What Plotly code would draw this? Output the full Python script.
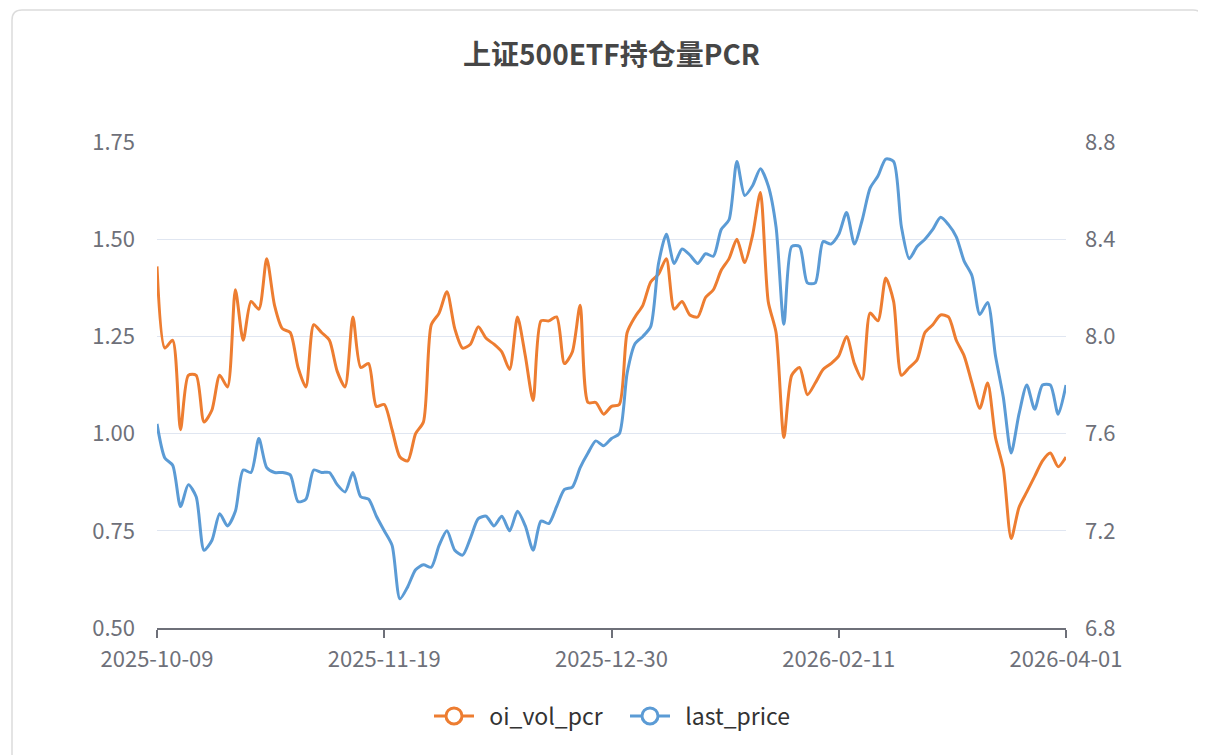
import pandas as pd
import plotly.graph_objects as go

# ---- data ----
holidays = ["2026-01-01", "2026-01-02", "2026-02-16", "2026-02-17", "2026-02-18",
            "2026-02-19", "2026-02-20", "2026-02-23"]
dates = [d.strftime("%Y-%m-%d") for d in pd.bdate_range("2025-10-09", "2026-04-01")
         if d.strftime("%Y-%m-%d") not in holidays]

tick_labels = ["2025-10-09", "2025-11-19", "2025-12-30", "2026-02-11", "2026-04-01"]

oi_vol_pcr = [
    1.43, 1.22, 1.24, 1.01, 1.15, 1.15, 1.03, 1.06, 1.15, 1.12,
    1.37, 1.24, 1.34, 1.32, 1.45, 1.33, 1.27, 1.26, 1.17, 1.12,
    1.28, 1.26, 1.24, 1.16, 1.12, 1.30, 1.17, 1.18, 1.07, 1.075,
    1.01, 0.94, 0.93, 1.00, 1.03, 1.28, 1.31, 1.365, 1.27, 1.22,
    1.23, 1.275, 1.245, 1.23, 1.21, 1.165, 1.30, 1.20, 1.085, 1.29,
    1.29, 1.30, 1.18, 1.21, 1.33, 1.08, 1.08, 1.05, 1.07, 1.075,
    1.26, 1.30, 1.33, 1.39, 1.41, 1.45, 1.32, 1.34, 1.305, 1.30,
    1.35, 1.37, 1.42, 1.45, 1.50, 1.44, 1.51, 1.62, 1.34, 1.26,
    0.99, 1.15, 1.17, 1.10, 1.13, 1.165, 1.18, 1.20, 1.25, 1.18,
    1.14, 1.31, 1.29, 1.40, 1.34, 1.15, 1.17, 1.19, 1.26, 1.28,
    1.305, 1.30, 1.24, 1.20, 1.13, 1.065, 1.13, 0.99, 0.91, 0.73,
    0.81, 0.85, 0.89, 0.93, 0.95, 0.915, 0.94,
]

last_price = [
    7.64, 7.50, 7.47, 7.30, 7.39, 7.34, 7.12, 7.16, 7.27, 7.22,
    7.28, 7.45, 7.44, 7.58, 7.46, 7.44, 7.44, 7.43, 7.32, 7.33,
    7.45, 7.44, 7.44, 7.39, 7.36, 7.44, 7.34, 7.33, 7.26, 7.20,
    7.14, 6.92, 6.97, 7.04, 7.06, 7.05, 7.14, 7.20, 7.12, 7.10,
    7.17, 7.25, 7.26, 7.22, 7.26, 7.20, 7.28, 7.22, 7.12, 7.24,
    7.23, 7.30, 7.37, 7.38, 7.46, 7.52, 7.57, 7.55, 7.58, 7.60,
    7.85, 7.97, 8.00, 8.04, 8.30, 8.42, 8.30, 8.36, 8.335, 8.30,
    8.34, 8.33, 8.44, 8.48, 8.72, 8.58, 8.62, 8.69, 8.62, 8.45,
    8.05, 8.37, 8.37, 8.22, 8.22, 8.39, 8.38, 8.42, 8.51, 8.38,
    8.48, 8.61, 8.66, 8.73, 8.72, 8.45, 8.32, 8.37, 8.40, 8.44,
    8.49, 8.46, 8.41, 8.31, 8.25, 8.09, 8.14, 7.92, 7.75, 7.52,
    7.68, 7.80, 7.70, 7.80, 7.80, 7.68, 7.80,
]

left_ticks = [0.50, 0.75, 1.00, 1.25, 1.50, 1.75]
right_ticks = [6.8, 7.2, 7.6, 8.0, 8.4, 8.8]

# ---- style ----
OFF = 8  # default page body margin
W, H = 1206 - OFF, 755 - OFF
ML, MR, MT, MB = 157 - OFF, 140, 142 - OFF, 127
ORANGE = "#ED7D31"
BLUE = "#5B9BD5"
AXIS_GRAY = "#6E7079"
GRID = "#E0E6F1"
FONT = "Noto Sans CJK SC, Noto Sans, sans-serif"

pw, ph = W - ML - MR, H - MT - MB


def px(x):  # page pixel -> paper
    return (x - OFF - ML) / pw


def py(y):
    return (H - MB - (y - OFF)) / ph


fig = go.Figure()

fig.add_trace(go.Scatter(x=dates, y=oi_vol_pcr, mode="lines", name="oi_vol_pcr",
                         line=dict(color=ORANGE, width=3, shape="spline", smoothing=0.7),
                         showlegend=False, yaxis="y"))
fig.add_trace(go.Scatter(x=dates, y=last_price, mode="lines", name="last_price",
                         line=dict(color=BLUE, width=3, shape="spline", smoothing=0.7),
                         showlegend=False, yaxis="y2"))

# legend entries (line + hollow circle)
NB = "\u00a0"
for name, col in [("oi_vol_pcr", ORANGE), ("last_price", BLUE)]:
    fig.add_trace(go.Scatter(x=[None], y=[None], mode="lines+markers", name=NB + NB + name,
                             line=dict(color=col, width=3),
                             marker=dict(symbol="circle", size=16, color="white",
                                         line=dict(color=col, width=3)),
                             showlegend=True))

# card border (rounded)
x0, y0, x1, y1, r = 12, 10, 1203, 790, 10
path = (f"M {px(x0 + r)} {py(y0)} L {px(x1 - r)} {py(y0)} Q {px(x1)} {py(y0)} {px(x1)} {py(y0 + r)} "
        f"L {px(x1)} {py(y1)} L {px(x0)} {py(y1)} L {px(x0)} {py(y0 + r)} "
        f"Q {px(x0)} {py(y0)} {px(x0 + r)} {py(y0)} Z")
fig.add_shape(type="path", path=path, xref="paper", yref="paper",
              line=dict(color="#DCDCDC", width=1.5), fillcolor="rgba(0,0,0,0)", layer="below")

fig.update_layout(
    width=W, height=H, autosize=False,
    margin=dict(l=ML, r=MR, t=MT, b=MB, pad=0),
    paper_bgcolor="white", plot_bgcolor="white",
    font=dict(family=FONT, color=AXIS_GRAY, size=23),
    title=dict(text="<b>上证500ETF持仓量PCR</b>", x=0.5, xref="paper", xanchor="center",
               y=1 - (55 - OFF) / H, yref="container", yanchor="middle",
               font=dict(size=28, color="#464646", family=FONT)),
    xaxis=dict(type="category", range=[0, len(dates) - 1], tickmode="array",
               tickvals=tick_labels, ticktext=tick_labels, showgrid=False,
               showline=True, linecolor=AXIS_GRAY, linewidth=1.5,
               ticks="outside", ticklen=8, tickwidth=1.5, tickcolor=AXIS_GRAY,
               ticklabelstandoff=3, tickfont=dict(size=22, color=AXIS_GRAY),
               zeroline=False, fixedrange=True),
    yaxis=dict(range=[left_ticks[0], left_ticks[-1]], tickmode="array", tickvals=left_ticks,
               ticktext=[f"{v:.2f}" for v in left_ticks], showgrid=True, gridcolor=GRID,
               gridwidth=1.2, zeroline=False, showline=False, ticks="",
               ticklabelstandoff=21, tickfont=dict(size=22, color=AXIS_GRAY)),
    yaxis2=dict(range=[right_ticks[0], right_ticks[-1]], tickmode="array", tickvals=right_ticks,
                ticktext=[f"{v:.1f}" for v in right_ticks], overlaying="y", side="right",
                showgrid=False, zeroline=False, showline=False, ticks="",
                ticklabelstandoff=18, tickfont=dict(size=22, color=AXIS_GRAY)),
    legend=dict(orientation="h", x=px(625), xanchor="center", xref="paper",
                y=py(716), yanchor="middle", yref="paper",
                font=dict(size=23, color="#333333"), itemwidth=40,
                entrywidth=141, entrywidthmode="pixels",
                bgcolor="rgba(0,0,0,0)"),
    showlegend=True,
)

fig.write_html("out.html")
